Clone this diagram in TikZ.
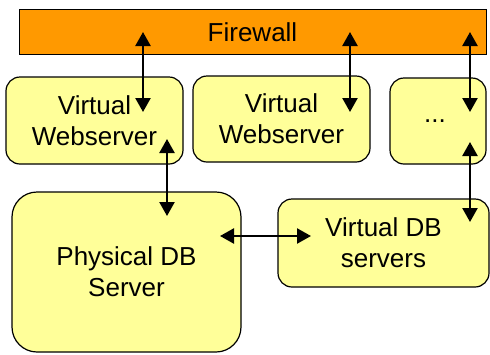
\documentclass[tikz,border=0pt]{standalone}
\usepackage{fontspec}
\setmainfont{Liberation Sans}
\usetikzlibrary{arrows.meta}
\definecolor{fworange}{RGB}{255,153,0}
\definecolor{boxyellow}{RGB}{255,255,153}
\begin{document}
\begin{tikzpicture}[x=1pt,y=-1pt,
	box/.style={draw=black, line width=1.2pt, fill=boxyellow, rounded corners=14pt, inner sep=0pt, align=center, font=\fontsize{26}{31}\selectfont},
	link/.style={line width=2.4pt, {Triangle[length=14pt,width=15pt]}-{Triangle[length=14pt,width=15pt]}}]
			\useasboundingbox (0,0) rectangle (490,354);
			\node[draw=black, line width=1pt, fill=fworange, minimum width=467pt, minimum height=45pt, inner sep=0pt, font=\fontsize{26}{31}\selectfont] (fw) at (252.5,32) {Firewall};
			\node[box, minimum width=177pt, minimum height=87pt] (web1) at (94.5,120.5) {Virtual\\Webserver};
			\node[box, minimum width=177pt, minimum height=86pt] (web2) at (281.5,119) {Virtual\\Webserver};
			\node[box, minimum width=96pt, minimum height=86pt] (more) at (438,121) {\hspace{-6pt}...};
			\node[box, rounded corners=25pt, minimum width=229pt, minimum height=160pt] (pdb) at (126.5,272) {Physical DB\\Server};
			\node[box, minimum width=211pt, minimum height=88pt] (vdb) at (383.5,243) {Virtual DB\\servers};
			% arrow ends
			\coordinate (fw1) at (143,32);
			\coordinate (fw2) at (350,32);
			\coordinate (fw3) at (470,32);
			\coordinate (in1) at (143,112);
			\coordinate (in2) at (350,112);
			\coordinate (in3) at (470,112);
			\coordinate (out1) at (167,139);
			\coordinate (out3) at (470,142);
			\coordinate (db1) at (167,216);
			\coordinate (db2) at (470,222);
			\coordinate (dbl) at (220,236);
			\coordinate (dbr) at (311,236);
			\draw[link] (fw1) -- (in1);
			\draw[link] (fw2) -- (in2);
			\draw[link] (fw3) -- (in3);
			\draw[link] (out1) -- (db1);
			\draw[link] (out3) -- (db2);
			\draw[link] (dbl) -- (dbr);
		\end{tikzpicture}
\end{document}
